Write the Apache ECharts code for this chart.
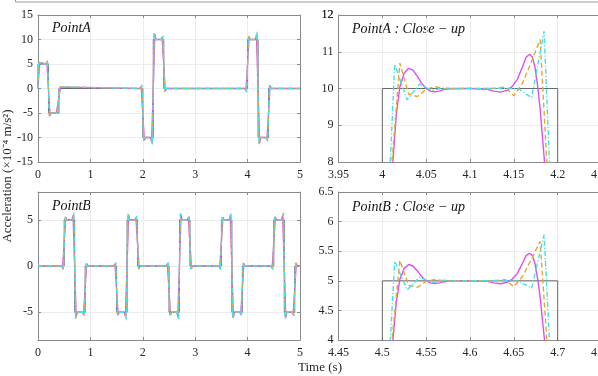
<!DOCTYPE html>
<html><head><meta charset="utf-8">
<script src="https://cdn.jsdelivr.net/npm/echarts@6/dist/echarts.min.js"></script>
<style>html,body{margin:0;padding:0;background:#fff}#c{width:598px;height:376px}</style>
</head><body><div id="c"></div>
<script>
// ---- Reference step signals (time s, acceleration x1e-4 m/s^2) ----
const refA = [[0,0],[0,5],[0.2,5],[0.2,-5],[0.4,-5],[0.4,0],[2,0],[2,-10],[2.2,-10],[2.2,10],[2.4,10],[2.4,0],[4,0],[4,10],[4.2,10],[4.2,-10],[4.4,-10],[4.4,0],[5,0]];
const refB = [[0,0],[0.5,0],[0.5,5],[0.7,5],[0.7,-5],[0.9,-5],[0.9,0],[1.5,0],[1.5,-5],[1.7,-5],[1.7,5],[1.9,5],[1.9,0],[2.5,0],[2.5,-5],[2.7,-5],[2.7,5],[2.9,5],[2.9,0],[3.5,0],[3.5,5],[3.7,5],[3.7,-5],[3.9,-5],[3.9,0],[4.5,0],[4.5,5],[4.7,5],[4.7,-5],[4.9,-5],[4.9,0],[5,0]];

// ---- Full-range responses, Point A ----
const magentaA = [[0,0],[0.03,5.28],[0.05,5],[0.15,5],[0.168,5.47],[0.23,-5.55],[0.25,-5],[0.35,-5],[0.368,-5.23],[0.43,0.28],[0.45,0],[1.95,0],[1.968,0.47],[2.03,-10.55],[2.05,-10],[2.15,-10],[2.168,-10.93],[2.23,11.1],[2.25,10],[2.35,10],[2.368,10.47],[2.43,-0.55],[2.45,0],[3.95,0],[3.968,-0.47],[4.03,10.55],[4.05,10],[4.15,10],[4.168,10.93],[4.23,-11.1],[4.25,-10],[4.35,-10],[4.368,-10.47],[4.43,0.55],[4.45,0],[5,0]];
const orangeA = [[0,0],[0.02,5.35],[0.04,5],[0.16,5],[0.181,5.68],[0.22,-5.69],[0.24,-5],[0.36,-5],[0.381,-5.34],[0.42,0.35],[0.44,0],[1.96,0],[1.981,0.68],[2.02,-10.69],[2.04,-10],[2.16,-10],[2.181,-11.35],[2.22,11.38],[2.24,10],[2.36,10],[2.381,10.68],[2.42,-0.69],[2.44,0],[3.96,0],[3.981,-0.68],[4.02,10.69],[4.04,10],[4.16,10],[4.181,11.35],[4.22,-11.38],[4.24,-10],[4.36,-10],[4.381,-10.68],[4.42,0.69],[4.44,0],[5,0]];
const cyanA = [[0,0],[0.014,5.33],[0.03,5],[0.17,5],[0.185,5.78],[0.214,-5.66],[0.23,-5],[0.37,-5],[0.385,-5.39],[0.414,0.33],[0.43,0],[1.97,0],[1.985,0.78],[2.014,-10.66],[2.03,-10],[2.17,-10],[2.185,-11.56],[2.214,11.32],[2.23,10],[2.37,10],[2.385,10.78],[2.414,-0.66],[2.43,0],[3.97,0],[3.985,-0.78],[4.014,10.66],[4.03,10],[4.17,10],[4.185,11.56],[4.214,-11.32],[4.23,-10],[4.37,-10],[4.385,-10.78],[4.414,0.66],[4.43,0],[5,0]];

// ---- Full-range responses, Point B ----
const magentaB = [[0,0],[0.45,0],[0.468,-0.23],[0.53,5.28],[0.55,5],[0.65,5],[0.668,5.47],[0.73,-5.55],[0.75,-5],[0.85,-5],[0.868,-5.23],[0.93,0.28],[0.95,0],[1.45,0],[1.468,0.23],[1.53,-5.28],[1.55,-5],[1.65,-5],[1.668,-5.47],[1.73,5.55],[1.75,5],[1.85,5],[1.868,5.23],[1.93,-0.28],[1.95,0],[2.45,0],[2.468,0.23],[2.53,-5.28],[2.55,-5],[2.65,-5],[2.668,-5.47],[2.73,5.55],[2.75,5],[2.85,5],[2.868,5.23],[2.93,-0.28],[2.95,0],[3.45,0],[3.468,-0.23],[3.53,5.28],[3.55,5],[3.65,5],[3.668,5.47],[3.73,-5.55],[3.75,-5],[3.85,-5],[3.868,-5.23],[3.93,0.28],[3.95,0],[4.45,0],[4.468,-0.23],[4.53,5.28],[4.55,5],[4.65,5],[4.668,5.47],[4.73,-5.55],[4.75,-5],[4.85,-5],[4.868,-5.23],[4.93,0.28],[4.95,0],[5,0]];
const orangeB = [[0,0],[0.46,0],[0.481,-0.34],[0.52,5.35],[0.54,5],[0.66,5],[0.681,5.68],[0.72,-5.69],[0.74,-5],[0.86,-5],[0.881,-5.34],[0.92,0.35],[0.94,0],[1.46,0],[1.481,0.34],[1.52,-5.35],[1.54,-5],[1.66,-5],[1.681,-5.68],[1.72,5.69],[1.74,5],[1.86,5],[1.881,5.34],[1.92,-0.35],[1.94,0],[2.46,0],[2.481,0.34],[2.52,-5.35],[2.54,-5],[2.66,-5],[2.681,-5.68],[2.72,5.69],[2.74,5],[2.86,5],[2.881,5.34],[2.92,-0.35],[2.94,0],[3.46,0],[3.481,-0.34],[3.52,5.35],[3.54,5],[3.66,5],[3.681,5.68],[3.72,-5.69],[3.74,-5],[3.86,-5],[3.881,-5.34],[3.92,0.35],[3.94,0],[4.46,0],[4.481,-0.34],[4.52,5.35],[4.54,5],[4.66,5],[4.681,5.68],[4.72,-5.69],[4.74,-5],[4.86,-5],[4.881,-5.34],[4.92,0.35],[4.94,0],[5,0]];
const cyanB = [[0,0],[0.47,0],[0.485,-0.39],[0.514,5.33],[0.53,5],[0.67,5],[0.685,5.78],[0.714,-5.66],[0.73,-5],[0.87,-5],[0.885,-5.39],[0.914,0.33],[0.93,0],[1.47,0],[1.485,0.39],[1.514,-5.33],[1.53,-5],[1.67,-5],[1.685,-5.78],[1.714,5.66],[1.73,5],[1.87,5],[1.885,5.39],[1.914,-0.33],[1.93,0],[2.47,0],[2.485,0.39],[2.514,-5.33],[2.53,-5],[2.67,-5],[2.685,-5.78],[2.714,5.66],[2.73,5],[2.87,5],[2.885,5.39],[2.914,-0.33],[2.93,0],[3.47,0],[3.485,-0.39],[3.514,5.33],[3.53,5],[3.67,5],[3.685,5.78],[3.714,-5.66],[3.73,-5],[3.87,-5],[3.885,-5.39],[3.914,0.33],[3.93,0],[4.47,0],[4.485,-0.39],[4.514,5.33],[4.53,5],[4.67,5],[4.685,5.78],[4.714,-5.66],[4.73,-5],[4.87,-5],[4.885,-5.39],[4.914,0.33],[4.93,0],[5,0]];

// ---- Close-up responses ----
const magentaZoomA = [[3.995,0.5],[4.004,5.0],[4.012,8.0],[4.016,9.3],[4.02,10.05],[4.025,10.42],[4.03,10.55],[4.035,10.5],[4.04,10.33],[4.045,10.14],[4.05,10.0],[4.055,9.93],[4.06,9.91],[4.065,9.93],[4.07,9.97],[4.08,10.0],[4.1,10.0],[4.12,9.98],[4.127,9.93],[4.135,9.9],[4.142,9.95],[4.148,10.05],[4.154,10.25],[4.16,10.6],[4.164,10.85],[4.168,10.93],[4.171,10.86],[4.174,10.6],[4.177,10.1],[4.18,9.45],[4.185,8.0],[4.195,3.0],[4.21,-6]];
const orangeZoomA = [[3.99,0],[4.0,3.0],[4.01,7.7],[4.02,10.69],[4.03,9.85],[4.04,9.78],[4.05,9.98],[4.06,10.05],[4.07,10.0],[4.08,9.99],[4.09,10.0],[4.1,10.0],[4.11,10.0],[4.12,10.0],[4.13,10.01],[4.14,10.04],[4.15,9.8],[4.16,10.15],[4.17,10.73],[4.18,11.33],[4.19,7.0],[4.2,0]];
const cyanZoomA = [[3.9857,-0.3],[3.9999,3.1],[4.0141,10.66],[4.0283,9.69],[4.0425,10.12],[4.0567,9.95],[4.0709,10.02],[4.0851,9.99],[4.0993,10.0],[4.1135,10.0],[4.1277,10.0],[4.1419,10.01],[4.1561,9.98],[4.1703,9.75],[4.1845,11.56],[4.1987,3.3],[4.2129,-8]];
const magentaZoomB = [[4.495,0.25],[4.504,2.5],[4.512,4.0],[4.516,4.65],[4.52,5.025],[4.525,5.21],[4.53,5.275],[4.535,5.25],[4.54,5.165],[4.545,5.07],[4.55,5.0],[4.555,4.965],[4.56,4.955],[4.565,4.965],[4.57,4.985],[4.58,5.0],[4.6,5.0],[4.62,4.99],[4.627,4.965],[4.635,4.95],[4.642,4.975],[4.648,5.025],[4.654,5.125],[4.66,5.3],[4.664,5.425],[4.668,5.465],[4.671,5.43],[4.674,5.3],[4.677,5.05],[4.68,4.725],[4.685,4.0],[4.695,1.5],[4.71,-3]];
const orangeZoomB = [[4.49,0],[4.5,1.5],[4.51,3.85],[4.52,5.345],[4.53,4.925],[4.54,4.89],[4.55,4.99],[4.56,5.025],[4.57,5.0],[4.58,4.995],[4.59,5.0],[4.6,5.0],[4.61,5.0],[4.62,5.0],[4.63,5.005],[4.64,5.02],[4.65,4.9],[4.66,5.075],[4.67,5.365],[4.68,5.665],[4.69,3.5],[4.7,0]];
const cyanZoomB = [[4.4857,-0.15],[4.4999,1.55],[4.5141,5.33],[4.5283,4.845],[4.5425,5.06],[4.5567,4.975],[4.5709,5.01],[4.5851,4.995],[4.5993,5.0],[4.6135,5.0],[4.6277,5.0],[4.6419,5.005],[4.6561,4.99],[4.6703,4.875],[4.6845,5.78],[4.6987,1.65],[4.7129,-4]];

// ---- Axis ranges / tick labels ----
const xFull = {min:0, max:5, interval:1};
const xZoomA = {min:3.95, max:4.25, interval:0.05};
const xZoomB = {min:4.45, max:4.75, interval:0.05};
const yA = {min:-15, max:15, ticks:[-15,-10,-5,0,5,10,15]};
const yB = {min:-8, max:8, ticks:[-5,0,5]};
const yZoomA = {min:8, max:12, ticks:[8,9,10,11,12]};
const yZoomB = {min:4, max:6.5, ticks:[4,4.5,5,5.5,6,6.5]};

const titles = ['PointA', 'PointA : Close \u2212 up', 'PointB', 'PointB : Close \u2212 up'];
const yTitle = 'Acceleration (\u00d710\u207b\u2074 m/s\u00b2)';
const xTitle = 'Time (s)';

const FONT = 'Liberation Serif';
const AX = '#8a8a8a';
const GRIDC = '#ececec';
const TXT = '#262626';
const C_REF = '#6a6a6a', C_MAG = '#dd4ff0', C_ORA = '#eea32c', C_CYA = '#3ee4ea';

const grids = [
  {left:38, top:15, width:262, height:147},
  {left:338.5, top:15, width:263, height:147},
  {left:38, top:192, width:262, height:148},
  {left:338.5, top:192, width:263, height:148}
].map(g => Object.assign(g, {containLabel:false, outerBoundsMode:'none', show:false}));

const xSpecs = [xFull, xZoomA, xFull, xZoomB];
const ySpecs = [yA, yZoomA, yB, yZoomB];

const xAxis = [], yAxis = [];
xSpecs.forEach((s, gi) => {
  xAxis.push({type:'value', gridIndex:gi, min:s.min, max:s.max, interval:s.interval, position:'bottom',
    axisLine:{show:true, onZero:false, lineStyle:{color:AX, width:1}},
    axisTick:{show:true, inside:true, length:3, lineStyle:{color:AX}},
    axisLabel:{show:true, margin:7, color:TXT, fontFamily:FONT, fontSize:12, showMinLabel:true, showMaxLabel:true, hideOverlap:false},
    splitLine:{show:true, lineStyle:{color:GRIDC, width:1}}});
  xAxis.push({type:'value', gridIndex:gi, min:s.min, max:s.max, interval:s.interval, position:'top',
    axisLine:{show:true, onZero:false, lineStyle:{color:AX, width:1}},
    axisTick:{show:true, inside:true, length:3, lineStyle:{color:AX}},
    axisLabel:{show:false}, splitLine:{show:false}});
});
ySpecs.forEach((s, gi) => {
  yAxis.push({type:'value', gridIndex:gi, min:s.min, max:s.max, position:'left',
    axisLine:{show:true, onZero:false, lineStyle:{color:AX, width:1}},
    axisTick:{show:true, inside:true, length:3, lineStyle:{color:AX}, customValues:s.ticks},
    axisLabel:{show:true, margin:5, color:TXT, fontFamily:FONT, fontSize:12, customValues:s.ticks},
    splitLine:{show:true, lineStyle:{color:GRIDC, width:1}}});
  yAxis.push({type:'value', gridIndex:gi, min:s.min, max:s.max, position:'right',
    axisLine:{show:true, onZero:false, lineStyle:{color:AX, width:1}},
    axisTick:{show:true, inside:true, length:3, lineStyle:{color:AX}, customValues:s.ticks},
    axisLabel:{show:false}, splitLine:{show:false}});
});

function line(data, gi, color, width, type) {
  return {type:'line', data:data, xAxisIndex:2*gi, yAxisIndex:2*gi, showSymbol:false, symbol:'none',
    clip:true, silent:true, animation:false,
    lineStyle:{color:color, width:width, type:type || 'solid'}};
}
const DASH = [5,3], DASHDOT = [5,2,1.2,2];
const series = [
  line(refA,0,C_REF,1), line(magentaA,0,C_MAG,1.3), line(orangeA,0,C_ORA,1.3,DASH), line(cyanA,0,C_CYA,1.3,DASHDOT),
  line(refA,1,C_REF,1), line(magentaZoomA,1,C_MAG,1.4), line(orangeZoomA,1,C_ORA,1.4,DASH), line(cyanZoomA,1,C_CYA,1.4,DASHDOT),
  line(refB,2,C_REF,1), line(magentaB,2,C_MAG,1.3), line(orangeB,2,C_ORA,1.3,DASH), line(cyanB,2,C_CYA,1.3,DASHDOT),
  line(refB,3,C_REF,1), line(magentaZoomB,3,C_MAG,1.4), line(orangeZoomB,3,C_ORA,1.4,DASH), line(cyanZoomB,3,C_CYA,1.4,DASHDOT)
];

const titlePos = [[52,28],[352,29],[52,206],[352,207]];
const graphic = [
  {type:'rect', shape:{x:15.5, y:-20, width:620, height:22}, style:{fill:'none', stroke:'#9a9a9a', lineWidth:1}, silent:true},
  ...titles.map((t,i) => ({type:'text', x:titlePos[i][0], y:titlePos[i][1], silent:true,
    style:{text:t, fill:'#111', font:'italic 14px "' + FONT + '"', textAlign:'left', textVerticalAlign:'middle', align:'left', verticalAlign:'middle'}})),
  {type:'text', x:8, y:176, rotation:Math.PI/2, silent:true,
    style:{text:yTitle, fill:TXT, font:'13px "' + FONT + '"', textAlign:'center', textVerticalAlign:'middle', align:'center', verticalAlign:'middle'}},
  {type:'text', x:320, y:368, silent:true,
    style:{text:xTitle, fill:TXT, font:'13px "' + FONT + '"', textAlign:'center', textVerticalAlign:'middle', align:'center', verticalAlign:'middle'}}
];

const chart = echarts.init(document.getElementById('c'), null, {renderer:'canvas'});
chart.setOption({animation:false, backgroundColor:'#fff', grid:grids, xAxis:xAxis, yAxis:yAxis, series:series, graphic:graphic});

// Top tick label of the PointA close-up y axis, placed through that grid's scales on a top layer
const topVal = yZoomA.ticks[yZoomA.ticks.length - 1];
let p = chart.convertToPixel({gridIndex:1}, [xZoomA.min, topVal]);
if (!p || !isFinite(p[0]) || !isFinite(p[1])) {
  p = [chart.convertToPixel({xAxisIndex:2}, xZoomA.min), chart.convertToPixel({yAxisIndex:2}, topVal)];
}
chart.setOption({graphic: graphic.concat([{type:'text', id:'ytop', x:p[0] - 5, y:p[1], z:100, zlevel:1, silent:true,
  style:{text:String(topVal), fill:TXT, font:'12px "' + FONT + '"', textAlign:'right', textVerticalAlign:'middle', align:'right', verticalAlign:'middle'}}])});
</script>
</body></html>
